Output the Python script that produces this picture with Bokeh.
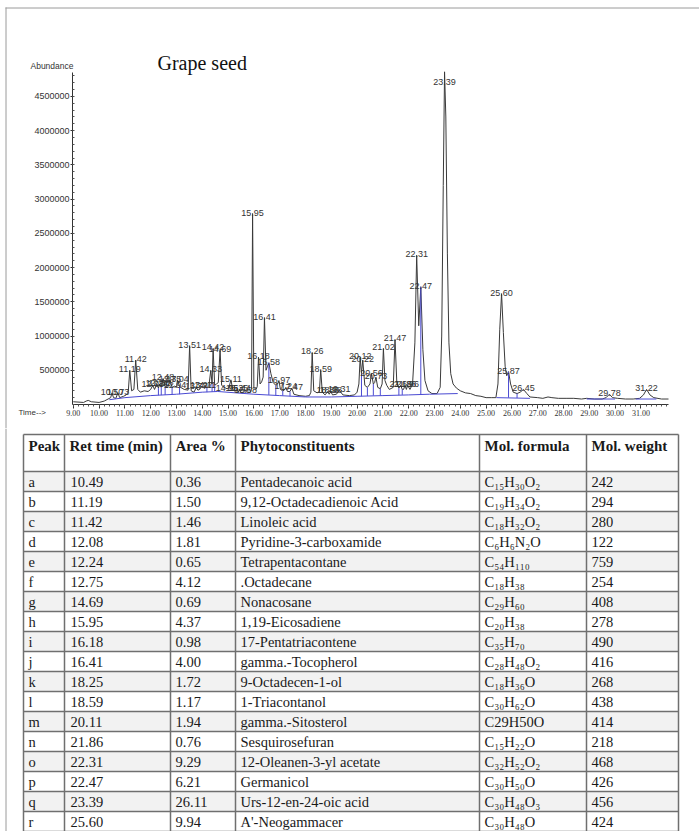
from bokeh.plotting import figure
from bokeh.layouts import column
from bokeh.models import Range1d, FixedTicker, PrintfTickFormatter
from bokeh.embed import file_html
from bokeh.resources import INLINE
from bokeh.core.properties import value

# ---------------- chromatogram data (abundance in millions) ----------------
trace_time = [
    9.00, 9.40, 9.50, 9.58, 9.70, 10.00, 10.20, 10.35, 10.45, 10.50,
    10.56, 10.65, 10.73, 10.80, 10.95, 11.05, 11.13, 11.19, 11.26, 11.35,
    11.42, 11.50, 11.60, 11.75, 11.90, 12.00, 12.08, 12.15, 12.24, 12.30,
    12.35, 12.41, 12.48, 12.56, 12.66, 12.75, 12.83, 12.94, 13.00, 13.04,
    13.12, 13.30, 13.45, 13.51, 13.57, 13.68, 13.77, 13.83, 13.90, 13.97,
    14.04, 14.11, 14.18, 14.26, 14.33, 14.38, 14.42, 14.48, 14.55, 14.62,
    14.69, 14.75, 14.85, 14.96, 15.03, 15.11, 15.18, 15.28, 15.35, 15.40,
    15.44, 15.52, 15.60, 15.68, 15.75, 15.85, 15.91, 15.95, 16.00, 16.08,
    16.13, 16.18, 16.24, 16.30, 16.36, 16.41, 16.47, 16.52, 16.58, 16.66,
    16.75, 16.85, 16.92, 16.97, 17.03, 17.12, 17.18, 17.24, 17.30, 17.40,
    17.47, 17.55, 17.75, 18.00, 18.15, 18.21, 18.26, 18.32, 18.45, 18.54,
    18.59, 18.65, 18.76, 18.86, 18.92, 18.98, 19.05, 19.20, 19.31, 19.45,
    19.70, 19.90, 20.00, 20.07, 20.12, 20.17, 20.22, 20.30, 20.40, 20.50,
    20.56, 20.63, 20.68, 20.73, 20.80, 20.90, 20.97, 21.02, 21.08, 21.15,
    21.25, 21.40, 21.47, 21.54, 21.62, 21.69, 21.75, 21.80, 21.86, 21.91,
    21.96, 22.05, 22.15, 22.24, 22.31, 22.39, 22.47, 22.55, 22.63, 22.75,
    22.90, 23.10, 23.22, 23.28, 23.34, 23.39, 23.44, 23.50, 23.56, 23.63,
    23.72, 23.85, 24.00, 24.20, 24.40, 24.60, 24.80, 25.00, 25.20, 25.38,
    25.46, 25.53, 25.60, 25.67, 25.74, 25.80, 25.87, 25.95, 26.05, 26.20,
    26.32, 26.45, 26.58, 26.70, 27.00, 27.20, 27.40, 27.55, 27.80, 28.10,
    28.40, 28.70, 28.90, 29.20, 29.50, 29.65, 29.78, 29.90, 30.10, 30.40,
    30.70, 30.95, 31.10, 31.22, 31.35, 31.50, 31.80, 32.07,
]
trace_abund_m = [
    0.04, 0.03, 0.05, 0.06, 0.04, 0.03, 0.05, 0.08, 0.10, 0.17,
    0.10, 0.09, 0.17, 0.10, 0.12, 0.14, 0.18, 0.50, 0.20, 0.22,
    0.65, 0.22, 0.18, 0.20, 0.19, 0.22, 0.28, 0.22, 0.30, 0.24,
    0.30, 0.25, 0.38, 0.26, 0.25, 0.36, 0.25, 0.27, 0.25, 0.36,
    0.26, 0.22, 0.21, 0.86, 0.20, 0.18, 0.25, 0.21, 0.22, 0.27,
    0.24, 0.27, 0.24, 0.28, 0.50, 0.30, 0.82, 0.28, 0.30, 0.32,
    0.80, 0.28, 0.25, 0.23, 0.24, 0.36, 0.22, 0.19, 0.22, 0.18,
    0.22, 0.17, 0.17, 0.20, 0.17, 0.18, 0.22, 2.79, 0.25, 0.22,
    0.26, 0.69, 0.30, 0.33, 0.40, 1.27, 0.50, 0.55, 0.61, 0.45,
    0.32, 0.28, 0.30, 0.35, 0.22, 0.20, 0.21, 0.25, 0.19, 0.19,
    0.24, 0.15, 0.13, 0.12, 0.13, 0.18, 0.76, 0.20, 0.17, 0.19,
    0.51, 0.18, 0.14, 0.19, 0.15, 0.19, 0.14, 0.15, 0.21, 0.14,
    0.13, 0.14, 0.18, 0.30, 0.69, 0.45, 0.65, 0.28, 0.25, 0.30,
    0.45, 0.30, 0.32, 0.40, 0.25, 0.23, 0.30, 0.82, 0.35, 0.28,
    0.22, 0.25, 0.95, 0.32, 0.24, 0.28, 0.22, 0.22, 0.28, 0.22,
    0.28, 0.22, 0.30, 0.90, 2.18, 1.15, 1.72, 0.80, 0.35, 0.20,
    0.16, 0.16, 0.25, 1.00, 3.20, 4.86, 4.20, 2.20, 0.90, 0.45,
    0.30, 0.24, 0.20, 0.17, 0.16, 0.13, 0.12, 0.10, 0.10, 0.10,
    0.30, 1.10, 1.62, 1.05, 0.55, 0.42, 0.48, 0.30, 0.18, 0.16,
    0.18, 0.22, 0.16, 0.11, 0.10, 0.09, 0.11, 0.10, 0.09, 0.09,
    0.09, 0.08, 0.09, 0.08, 0.08, 0.10, 0.15, 0.10, 0.09, 0.08,
    0.08, 0.09, 0.14, 0.22, 0.14, 0.10, 0.08, 0.08,
]

# integration baseline segments (blue)
baseline_time = [
    [10.40, 11.0, 12.0, 13.0, 14.0, 14.6, 15.3, 16.0, 17.0, 18.0, 19.0, 20.0, 21.0, 22.0, 22.8, 23.9],
    [25.40, 26.70],
    [28.90, 30.00],
    [30.80, 31.60],
]
baseline_abund_m = [
    [0.07, 0.10, 0.13, 0.15, 0.18, 0.19, 0.17, 0.15, 0.13, 0.11, 0.11, 0.12, 0.13, 0.14, 0.15, 0.16],
    [0.10, 0.09],
    [0.08, 0.08],
    [0.08, 0.08],
]

# peak split (drop) lines
drop_time = [12.30, 12.41, 12.56, 12.83, 13.12, 14.18, 14.38, 14.48, 16.58, 16.85, 17.12,
             17.40, 20.17, 20.40, 20.63, 20.90, 21.62, 21.75, 22.47, 25.87, 26.20]
drop_top_m = [0.24, 0.25, 0.26, 0.25, 0.26, 0.24, 0.30, 0.28, 0.61, 0.28, 0.20,
              0.19, 0.45, 0.25, 0.30, 0.23, 0.24, 0.22, 1.72, 0.48, 0.16]
drop_base_m = [0.135, 0.137, 0.14, 0.145, 0.15, 0.18, 0.185, 0.19, 0.14, 0.13, 0.13,
               0.12, 0.12, 0.125, 0.13, 0.13, 0.135, 0.14, 0.145, 0.10, 0.095]

# labelled peaks
label_rt = [10.50, 10.73, 11.19, 11.42, 12.08, 12.24, 12.35, 12.48, 12.75, 12.94, 13.04,
            13.51, 13.77, 13.97, 14.11, 14.33, 14.42, 14.69, 14.96, 15.11, 15.35, 15.44,
            15.68, 15.95, 16.18, 16.41, 16.58, 16.97, 17.24, 17.47, 18.26, 18.59, 18.86,
            18.98, 19.31, 20.12, 20.22, 20.56, 20.73, 21.02, 21.47, 21.69, 21.86, 21.96,
            22.31, 22.47, 23.39, 25.60, 25.87, 26.45, 29.78, 31.22]
label_height_m = [0.17, 0.17, 0.50, 0.65, 0.28, 0.30, 0.30, 0.38, 0.36, 0.27, 0.36,
                  0.86, 0.25, 0.27, 0.27, 0.50, 0.82, 0.80, 0.23, 0.36, 0.22, 0.22,
                  0.20, 2.79, 0.69, 1.27, 0.61, 0.35, 0.25, 0.24, 0.76, 0.51, 0.19,
                  0.19, 0.21, 0.69, 0.65, 0.45, 0.40, 0.82, 0.95, 0.28, 0.28, 0.28,
                  2.18, 1.72, 4.86, 1.62, 0.48, 0.22, 0.15, 0.22]

x_ticks = list(range(9, 32))
y_ticks = [500000, 1000000, 1500000, 2000000, 2500000, 3000000, 3500000, 4000000, 4500000]

# ---------------- table data ----------------
tbl_header = ["Peak", "Ret time (min)", "Area %", "Phytoconstituents", "Mol. formula", "Mol. weight"]
tbl_peak = list("abcdefghijklmnopqr")
tbl_ret = ["10.49", "11.19", "11.42", "12.08", "12.24", "12.75", "14.69", "15.95", "16.18",
           "16.41", "18.25", "18.59", "20.11", "21.86", "22.31", "22.47", "23.39", "25.60"]
tbl_area = ["0.36", "1.50", "1.46", "1.81", "0.65", "4.12", "0.69", "4.37", "0.98",
            "4.00", "1.72", "1.17", "1.94", "0.76", "9.29", "6.21", "26.11", "9.94"]
tbl_name = ["Pentadecanoic acid", "9,12-Octadecadienoic Acid", "Linoleic acid",
            "Pyridine-3-carboxamide", "Tetrapentacontane", ".Octadecane", "Nonacosane",
            "1,19-Eicosadiene", "17-Pentatriacontene", "gamma.-Tocopherol", "9-Octadecen-1-ol",
            "1-Triacontanol", "gamma.-Sitosterol", "Sesquirosefuran", "12-Oleanen-3-yl acetate",
            "Germanicol", "Urs-12-en-24-oic acid", "A'-Neogammacer"]
tbl_formula = ["C₁₅H₃₀O₂", "C₁₉H₃₄O₂", "C₁₈H₃₂O₂", "C₆H₆N₂O", "C₅₄H₁₁₀", "C₁₈H₃₈",
               "C₂₉H₆₀", "C₂₀H₃₈", "C₃₅H₇₀", "C₂₈H₄₈O₂", "C₁₈H₃₆O", "C₃₀H₆₂O",
               "C29H50O", "C₁₅H₂₂O", "C₃₂H₅₂O₂", "C₃₀H₅₀O", "C₃₀H₄₈O₃", "C₃₀H₄₈O"]
tbl_weight = ["242", "294", "280", "122", "759", "254", "408", "278", "490",
              "416", "268", "438", "414", "218", "468", "426", "456", "424"]

M = 1e6
SANS = "Liberation Sans"
SERIF = "Liberation Serif"
BORDER = "#9a9a9a"
BX, BY = 5.5, 7.5          # page frame line positions

# ---------------- chromatogram figure (frame = whole canvas) ----------------
W1, H1 = 699, 428
FL, FR, FT, FB = 72, 668, 72, 404          # pixel box of the plotting area
X0, X1 = 8.97, 32.07
Y0, Y1 = 0.0, 4.85 * M
sx = (X1 - X0) / (FR - FL)
sy = (Y1 - Y0) / (FB - FT)

p = figure(width=W1, height=H1,
           x_range=Range1d(X0 - FL * sx, X1 + (W1 - FR) * sx),
           y_range=Range1d(Y0 - (H1 - FB) * sy, Y1 + FT * sy),
           output_backend="svg", toolbar_location=None, min_border=0,
           min_border_left=0, min_border_right=0, min_border_top=0, min_border_bottom=0)
p.extra_x_ranges = {"px": Range1d(0, W1)}
p.extra_y_ranges = {"py": Range1d(H1, 0)}
p.grid.visible = False
p.outline_line_color = None

xa = p.xaxis[0]
xa.fixed_location = 0
xa.bounds = (X0, X1)
xa.ticker = FixedTicker(ticks=x_ticks, minor_ticks=[9 + 0.2 * k for k in range(0, 116)])
xa.formatter = PrintfTickFormatter(format="%.2f")
xa.major_label_text_font = "Liberation Sans Narrow"
xa.major_label_text_font_size = "8px"
xa.major_label_text_color = "#333333"
xa.major_label_standoff = 1
xa.major_tick_out = 4
xa.major_tick_in = 0
xa.minor_tick_out = 2
xa.minor_tick_in = 0
xa.axis_line_color = "#333333"
xa.major_tick_line_color = "#333333"
xa.minor_tick_line_color = "#555555"

ya = p.yaxis[0]
ya.fixed_location = X0
ya.bounds = (Y0, Y1)
ya.ticker = FixedTicker(ticks=y_ticks, minor_ticks=[100000 * k for k in range(0, 49)])
ya.formatter = PrintfTickFormatter(format="%d")
ya.major_label_text_font = SANS
ya.major_label_text_font_size = "9px"
ya.major_label_text_color = "#333333"
ya.major_label_standoff = 1
ya.major_tick_out = 2
ya.major_tick_in = 0
ya.minor_tick_out = 0
ya.minor_tick_in = 2
ya.axis_line_color = "#333333"
ya.major_tick_line_color = "#333333"
ya.minor_tick_line_color = "#555555"

p.line(trace_time, [v * M for v in trace_abund_m], line_color="#3a3a3a", line_width=1)
p.multi_line(xs=baseline_time, ys=[[v * M for v in seg] for seg in baseline_abund_m],
             line_color="#4a4ad2", line_width=1)
p.segment(x0=drop_time, y0=[v * M for v in drop_base_m], x1=drop_time,
          y1=[v * M for v in drop_top_m], line_color="#4a4ad2", line_width=1)

label_y = [min(h, 4.70) * M for h in label_height_m]
p.text(x=label_rt, y=label_y, text=["%.2f" % t for t in label_rt],
       text_font=value(SANS), text_font_size="9px", text_color="#333333",
       text_align="center", text_baseline="bottom", y_offset=2)

# page texts in pixel coordinates
p.text(x=[157], y=[62], text=["Grape seed"], x_range_name="px", y_range_name="py",
       text_font=value(SERIF), text_font_size="20px", text_color="#111111",
       text_align="left", text_baseline="alphabetic")
p.text(x=[73], y=[65], text=["Abundance"], x_range_name="px", y_range_name="py",
       text_font=value(SANS), text_font_size="8.5px", text_color="#333333",
       text_align="right", text_baseline="middle")
p.text(x=[18], y=[411.5], text=["Time-->"], x_range_name="px", y_range_name="py",
       text_font=value(SANS), text_font_size="8px", text_color="#333333",
       text_align="left", text_baseline="middle")
# outer frame of the page (left and top)
p.segment(x0=[BX, BX - 0.5], y0=[BY - 0.5, BY], x1=[BX, W1], y1=[H1, BY],
          x_range_name="px", y_range_name="py", line_color=BORDER, line_width=1)

# ---------------- table figure ----------------
TW, TH = 699, 831 - H1
t = figure(width=TW, height=TH, x_range=Range1d(0, TW), y_range=Range1d(TH, 0),
           output_backend="svg", toolbar_location=None, x_axis_type=None, y_axis_type=None,
           min_border=0, min_border_left=0, min_border_right=0, min_border_top=0,
           min_border_bottom=0)
t.grid.visible = False
t.outline_line_color = None

col_edges = [23, 64, 170, 235, 479, 586, 678]
table_top = 6
header_bottom = 43
row_h = 20.0
n = len(tbl_peak)
row_top = [header_bottom + i * row_h for i in range(n)]
row_mid = [r + row_h / 2 for r in row_top]

gray = [i for i in range(n) if i % 2 == 0]
t.quad(left=col_edges[0], right=col_edges[-1], top=[row_top[i] for i in gray],
       bottom=[row_top[i] + row_h for i in gray], fill_color="#f2f2f2", line_color=None)

h_lines = [table_top, header_bottom] + [header_bottom + (i + 1) * row_h for i in range(n)]
t.segment(x0=[col_edges[0]] * len(h_lines), x1=[col_edges[-1]] * len(h_lines),
          y0=h_lines, y1=h_lines, line_color="#6f6f6f", line_width=1.5)
t.segment(x0=col_edges, x1=col_edges, y0=[table_top] * len(col_edges),
          y1=[TH + 5] * len(col_edges), line_color="#6f6f6f", line_width=1.5)
t.segment(x0=[BX], y0=[0], x1=[BX], y1=[TH], line_color=BORDER, line_width=1)

t.text(x=[col_edges[i] + 5 for i in range(6)], y=[17.5] * 6, text=tbl_header,
       text_font=value(SERIF), text_font_size="15px", text_font_style="bold",
       text_color="#1a1a1a", text_align="left", text_baseline="middle")

cols = [tbl_peak, tbl_ret, tbl_area, tbl_name, tbl_formula, tbl_weight]
pads = [5, 6, 5, 5, 5, 5]
for ci, col in enumerate(cols):
    t.text(x=[col_edges[ci] + pads[ci]] * n, y=row_mid, text=col,
           text_font=value(SERIF), text_font_size="14.5px", text_color="#1a1a1a",
           text_align="left", text_baseline="middle")

layout = column(p, t, spacing=0)

open("out.html", "w").write(file_html(layout, INLINE))
